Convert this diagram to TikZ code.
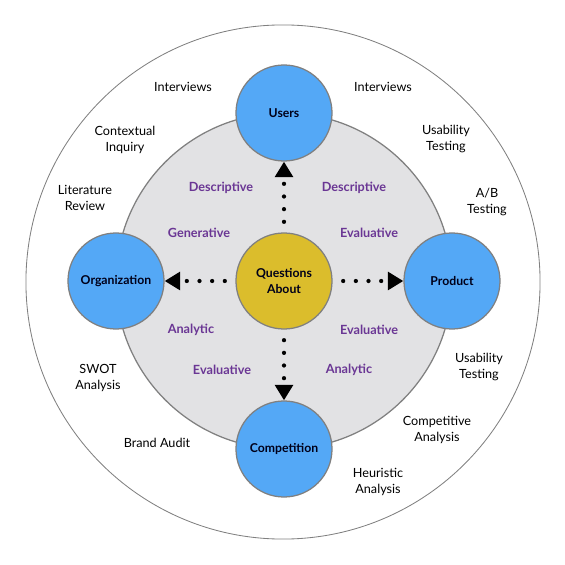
\documentclass[tikz,border=0pt]{standalone}
\usepackage{fontspec}
\setmainfont{Lato}
\usetikzlibrary{arrows.meta}

\definecolor{topicblue}{RGB}{84,168,246}
\definecolor{askyellow}{RGB}{219,189,44}
\definecolor{ringgray}{RGB}{226,226,228}
\definecolor{edgegray}{RGB}{128,128,128}
\definecolor{kindpurple}{RGB}{106,54,148}

\begin{document}
\begin{tikzpicture}[x=0.025cm,y=0.025cm,
        topic/.style={% For the four blue circles
            circle,
            draw=edgegray,
            line width=0.9pt,
            fill=topicblue,
            minimum size=2.4cm,
            inner sep=0pt,
            align=center,
            text=black!90!blue,
            font=\fontsize{8.7}{10.8}\selectfont\bfseries,
            },
        ask/.style={% For the centre
            topic,
            fill=askyellow,
            },
        method/.style={% Black texts in the outer ring
            align=center,
            font=\fontsize{9}{11.4}\selectfont,
            },
        kind/.style={% Purple texts in the grey disc
            text=kindpurple,
            font=\fontsize{9}{10}\selectfont\bfseries,
            },
        DotArrow/.style={% Dotted arrows with big heads
            line width=3pt,
            line cap=round,
            dash pattern=on 0pt off 9pt,
            shorten <=7.5pt,
            -{Triangle[length=11pt,width=12.5pt]},
            },
            ]
         \useasboundingbox (-284,-284) rectangle (281,281);
         \draw [draw=edgegray, line width=0.6pt] (-1,-1) circle (6.425cm);
         \draw [draw=edgegray, fill=ringgray, line width=0.9pt] (0,0) circle (4.2cm);
            % Draw the circles
            \node [ask] (ask) at (0,0) {Questions\\About};
            \node [topic] (users) at (0,168) {Users};
            \node [topic] (org) at (-168,0) {Organization};
            \node [topic] (product) at (168,0) {Product};
            \node [topic] (comp) at (0,-168) {Competition};
            \draw [DotArrow] (ask) -- (users);
            \draw [DotArrow] (ask) -- (org);
            \draw [DotArrow] (ask) -- (product);
            \draw [DotArrow] (ask) -- (comp);
            % Kinds of research
            \node [kind] (descL) at (-63,93) {Descriptive};
            \node [kind] (descR) at (70,93) {Descriptive};
            \node [kind] (gen) at (-85,48) {Generative};
            \node [kind] (evalA) at (85,48) {Evaluative};
            \node [kind] (anaL) at (-93,-49) {Analytic};
            \node [kind] (evalB) at (85,-49) {Evaluative};
            \node [kind] (evalC) at (-62,-89) {Evaluative};
            \node [kind] (anaR) at (65,-89) {Analytic};
            % Methods
            \node [method] (intL) at (-101,194) {Interviews};
            \node [method] (intR) at (99,194) {Interviews};
            \node [method] (ctx) at (-159,141) {Contextual\\Inquiry};
            \node [method] (lit) at (-199,83) {Literature\\Review};
            \node [method] (usaA) at (162,142) {Usability\\Testing};
            \node [method] (ab) at (203,79) {A/B\\Testing};
            \node [method] (swot) at (-186,-97) {SWOT\\Analysis};
            \node [method] (brand) at (-127,-162) {Brand Audit};
            \node [method] (usaB) at (195,-86) {Usability\\Testing};
            \node [method] (compet) at (153,-149) {Competitive\\Analysis};
            \node [method] (heur) at (94,-201) {Heuristic\\Analysis};
        \end{tikzpicture}
\end{document}
